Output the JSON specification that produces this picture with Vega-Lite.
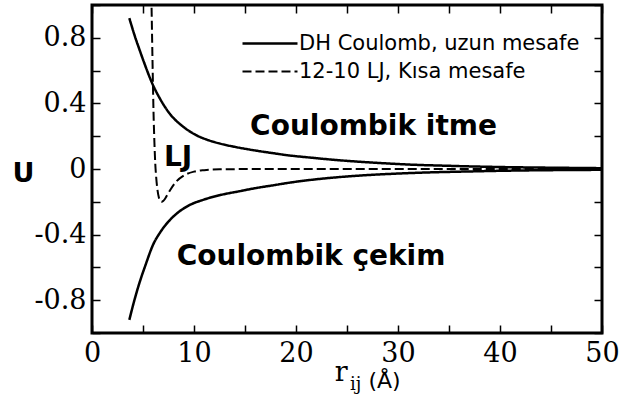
{
  "$schema": "https://vega.github.io/schema/vega-lite/v6.json",
  "width": 510,
  "height": 328,
  "autosize": {"type": "none"},
  "padding": {"left": 92, "top": 5, "right": 18, "bottom": 70},
  "background": "white",
  "config": {
    "view": {"stroke": "black", "strokeWidth": 3},
    "axis": {
      "domain": false,
      "grid": false,
      "tickColor": "black",
      "tickWidth": 1.5,
      "tickSize": -8,
      "labelFont": "DejaVu Serif",
      "labelFontSize": 27,
      "labelColor": "black"
    }
  },
  "datasets": {
    "curves": [
      {"r": 3.66, "U": 0.92, "curve": "itme", "series": "DH Coulomb, uzun mesafe"},
      {"r": 4.2, "U": 0.81, "curve": "itme", "series": "DH Coulomb, uzun mesafe"},
      {"r": 4.7, "U": 0.72, "curve": "itme", "series": "DH Coulomb, uzun mesafe"},
      {"r": 5.25, "U": 0.625, "curve": "itme", "series": "DH Coulomb, uzun mesafe"},
      {"r": 5.85, "U": 0.53, "curve": "itme", "series": "DH Coulomb, uzun mesafe"},
      {"r": 6.7, "U": 0.425, "curve": "itme", "series": "DH Coulomb, uzun mesafe"},
      {"r": 7.65, "U": 0.335, "curve": "itme", "series": "DH Coulomb, uzun mesafe"},
      {"r": 8.9, "U": 0.26, "curve": "itme", "series": "DH Coulomb, uzun mesafe"},
      {"r": 10.26, "U": 0.205, "curve": "itme", "series": "DH Coulomb, uzun mesafe"},
      {"r": 11.3, "U": 0.178, "curve": "itme", "series": "DH Coulomb, uzun mesafe"},
      {"r": 12.55, "U": 0.155, "curve": "itme", "series": "DH Coulomb, uzun mesafe"},
      {"r": 14.0, "U": 0.135, "curve": "itme", "series": "DH Coulomb, uzun mesafe"},
      {"r": 15.5, "U": 0.118, "curve": "itme", "series": "DH Coulomb, uzun mesafe"},
      {"r": 17.8, "U": 0.096, "curve": "itme", "series": "DH Coulomb, uzun mesafe"},
      {"r": 19.3, "U": 0.083, "curve": "itme", "series": "DH Coulomb, uzun mesafe"},
      {"r": 21.0, "U": 0.072, "curve": "itme", "series": "DH Coulomb, uzun mesafe"},
      {"r": 24.3, "U": 0.053, "curve": "itme", "series": "DH Coulomb, uzun mesafe"},
      {"r": 26.5, "U": 0.043, "curve": "itme", "series": "DH Coulomb, uzun mesafe"},
      {"r": 29.2, "U": 0.033, "curve": "itme", "series": "DH Coulomb, uzun mesafe"},
      {"r": 31.5, "U": 0.026, "curve": "itme", "series": "DH Coulomb, uzun mesafe"},
      {"r": 34.1, "U": 0.021, "curve": "itme", "series": "DH Coulomb, uzun mesafe"},
      {"r": 37.0, "U": 0.016, "curve": "itme", "series": "DH Coulomb, uzun mesafe"},
      {"r": 40.0, "U": 0.012, "curve": "itme", "series": "DH Coulomb, uzun mesafe"},
      {"r": 45.0, "U": 0.008, "curve": "itme", "series": "DH Coulomb, uzun mesafe"},
      {"r": 50.0, "U": 0.005, "curve": "itme", "series": "DH Coulomb, uzun mesafe"},
      {"r": 3.66, "U": -0.92, "curve": "cekim", "series": "DH Coulomb, uzun mesafe"},
      {"r": 4.2, "U": -0.79, "curve": "cekim", "series": "DH Coulomb, uzun mesafe"},
      {"r": 4.7, "U": -0.685, "curve": "cekim", "series": "DH Coulomb, uzun mesafe"},
      {"r": 5.25, "U": -0.585, "curve": "cekim", "series": "DH Coulomb, uzun mesafe"},
      {"r": 6.0, "U": -0.46, "curve": "cekim", "series": "DH Coulomb, uzun mesafe"},
      {"r": 6.7, "U": -0.385, "curve": "cekim", "series": "DH Coulomb, uzun mesafe"},
      {"r": 7.5, "U": -0.32, "curve": "cekim", "series": "DH Coulomb, uzun mesafe"},
      {"r": 8.3, "U": -0.272, "curve": "cekim", "series": "DH Coulomb, uzun mesafe"},
      {"r": 9.5, "U": -0.222, "curve": "cekim", "series": "DH Coulomb, uzun mesafe"},
      {"r": 10.9, "U": -0.188, "curve": "cekim", "series": "DH Coulomb, uzun mesafe"},
      {"r": 12.5, "U": -0.16, "curve": "cekim", "series": "DH Coulomb, uzun mesafe"},
      {"r": 14.5, "U": -0.135, "curve": "cekim", "series": "DH Coulomb, uzun mesafe"},
      {"r": 16.0, "U": -0.117, "curve": "cekim", "series": "DH Coulomb, uzun mesafe"},
      {"r": 17.8, "U": -0.099, "curve": "cekim", "series": "DH Coulomb, uzun mesafe"},
      {"r": 19.4, "U": -0.083, "curve": "cekim", "series": "DH Coulomb, uzun mesafe"},
      {"r": 21.1, "U": -0.069, "curve": "cekim", "series": "DH Coulomb, uzun mesafe"},
      {"r": 24.3, "U": -0.049, "curve": "cekim", "series": "DH Coulomb, uzun mesafe"},
      {"r": 26.5, "U": -0.039, "curve": "cekim", "series": "DH Coulomb, uzun mesafe"},
      {"r": 29.2, "U": -0.03, "curve": "cekim", "series": "DH Coulomb, uzun mesafe"},
      {"r": 31.5, "U": -0.024, "curve": "cekim", "series": "DH Coulomb, uzun mesafe"},
      {"r": 34.1, "U": -0.019, "curve": "cekim", "series": "DH Coulomb, uzun mesafe"},
      {"r": 37.0, "U": -0.015, "curve": "cekim", "series": "DH Coulomb, uzun mesafe"},
      {"r": 40.0, "U": -0.011, "curve": "cekim", "series": "DH Coulomb, uzun mesafe"},
      {"r": 45.0, "U": -0.007, "curve": "cekim", "series": "DH Coulomb, uzun mesafe"},
      {"r": 50.0, "U": -0.005, "curve": "cekim", "series": "DH Coulomb, uzun mesafe"},
      {"r": 5.75, "U": 1.3, "curve": "lj", "series": "12-10 LJ, Kısa mesafe"},
      {"r": 5.85, "U": 0.95, "curve": "lj", "series": "12-10 LJ, Kısa mesafe"},
      {"r": 5.95, "U": 0.6, "curve": "lj", "series": "12-10 LJ, Kısa mesafe"},
      {"r": 6.03, "U": 0.35, "curve": "lj", "series": "12-10 LJ, Kısa mesafe"},
      {"r": 6.12, "U": 0.16, "curve": "lj", "series": "12-10 LJ, Kısa mesafe"},
      {"r": 6.2, "U": 0.036, "curve": "lj", "series": "12-10 LJ, Kısa mesafe"},
      {"r": 6.3, "U": -0.056, "curve": "lj", "series": "12-10 LJ, Kısa mesafe"},
      {"r": 6.4, "U": -0.118, "curve": "lj", "series": "12-10 LJ, Kısa mesafe"},
      {"r": 6.55, "U": -0.172, "curve": "lj", "series": "12-10 LJ, Kısa mesafe"},
      {"r": 6.7, "U": -0.195, "curve": "lj", "series": "12-10 LJ, Kısa mesafe"},
      {"r": 6.83, "U": -0.2, "curve": "lj", "series": "12-10 LJ, Kısa mesafe"},
      {"r": 7.0, "U": -0.194, "curve": "lj", "series": "12-10 LJ, Kısa mesafe"},
      {"r": 7.3, "U": -0.167, "curve": "lj", "series": "12-10 LJ, Kısa mesafe"},
      {"r": 7.7, "U": -0.125, "curve": "lj", "series": "12-10 LJ, Kısa mesafe"},
      {"r": 8.2, "U": -0.081, "curve": "lj", "series": "12-10 LJ, Kısa mesafe"},
      {"r": 9.0, "U": -0.04, "curve": "lj", "series": "12-10 LJ, Kısa mesafe"},
      {"r": 10.0, "U": -0.016, "curve": "lj", "series": "12-10 LJ, Kısa mesafe"},
      {"r": 11.0, "U": -0.007, "curve": "lj", "series": "12-10 LJ, Kısa mesafe"},
      {"r": 12.5, "U": -0.002, "curve": "lj", "series": "12-10 LJ, Kısa mesafe"},
      {"r": 15.0, "U": -0.0005, "curve": "lj", "series": "12-10 LJ, Kısa mesafe"},
      {"r": 20.0, "U": 0, "curve": "lj", "series": "12-10 LJ, Kısa mesafe"},
      {"r": 30.0, "U": 0, "curve": "lj", "series": "12-10 LJ, Kısa mesafe"},
      {"r": 40.0, "U": 0, "curve": "lj", "series": "12-10 LJ, Kısa mesafe"},
      {"r": 50.0, "U": 0, "curve": "lj", "series": "12-10 LJ, Kısa mesafe"}
    ],
    "notes": [
      {"x": 15.5, "y": 0.207, "t": "Coulombik itme"},
      {"x": 7.06, "y": 0.018, "t": "LJ"},
      {"x": 8.3, "y": -0.585, "t": "Coulombik çekim"}
    ],
    "titleMain": [{"x": 23.8, "y": -1.291, "t": "r"}],
    "titleSub": [{"x": 25.3, "y": -1.345, "t": "ij"}],
    "titleUnit": [{"x": 27.1, "y": -1.335, "t": "(Å)"}]
  },
  "layer": [
    {
      "data": {"name": "curves"},
      "mark": {"type": "line", "clip": true, "color": "black", "interpolate": "monotone"},
      "encoding": {
        "x": {
          "field": "r", "type": "quantitative",
          "scale": {"domain": [0, 50], "nice": false},
          "axis": {
            "values": [0, 5, 10, 15, 20, 25, 30, 35, 40, 45, 50],
            "labelExpr": "datum.value % 10 == 0 ? datum.label : ''",
            "labelPadding": 15,
            "labelFlush": false,
            "title": null
          }
        },
        "y": {
          "field": "U", "type": "quantitative",
          "scale": {"domain": [-1, 1], "nice": false},
          "axis": {
            "values": [-1, -0.8, -0.6, -0.4, -0.2, 0, 0.2, 0.4, 0.6, 0.8, 1],
            "labelExpr": "indexof([-0.8, -0.4, 0, 0.4, 0.8], datum.value) >= 0 ? (datum.value < 0 ? '-' : '') + abs(datum.value) : ''",
            "labelPadding": 14,
            "labelFlush": false,
            "title": "U",
            "titleAngle": 0,
            "titleFont": "DejaVu Sans",
            "titleFontWeight": "bold",
            "titleFontSize": 27,
            "titleColor": "black",
            "titleX": -69,
            "titleY": 168,
            "titleAlign": "center",
            "titleBaseline": "middle"
          }
        },
        "detail": {"field": "curve"},
        "strokeDash": {
          "field": "series", "type": "nominal",
          "scale": {"domain": ["DH Coulomb, uzun mesafe", "12-10 LJ, Kısa mesafe"], "range": [[1, 0], [9, 4]]},
          "legend": {
            "orient": "none",
            "legendX": 149,
            "legendY": 28,
            "title": null,
            "padding": 0,
            "clipHeight": 21,
            "symbolType": "stroke",
            "symbolSize": 3025,
            "symbolStrokeWidth": 2.5,
            "symbolStrokeColor": "black",
            "labelFont": "DejaVu Sans",
            "labelFontSize": 21,
            "labelColor": "black",
            "labelOffset": 0,
            "labelLimit": 400,
            "rowPadding": 6
          }
        },
        "strokeWidth": {
          "field": "series", "type": "nominal",
          "scale": {"domain": ["DH Coulomb, uzun mesafe", "12-10 LJ, Kısa mesafe"], "range": [2.5, 2]},
          "legend": null
        }
      }
    },
    {
      "data": {"name": "notes"},
      "mark": {"type": "text", "align": "left", "baseline": "alphabetic", "font": "DejaVu Sans", "fontWeight": "bold", "fontSize": 28, "color": "black"},
      "encoding": {
        "x": {
          "field": "x", "type": "quantitative",
          "axis": {"orient": "top", "values": [0, 5, 10, 15, 20, 25, 30, 35, 40, 45, 50], "labels": false, "title": null}
        },
        "y": {
          "field": "y", "type": "quantitative",
          "axis": {"orient": "right", "values": [-1, -0.8, -0.6, -0.4, -0.2, 0, 0.2, 0.4, 0.6, 0.8, 1], "labels": false, "title": null}
        },
        "text": {"field": "t"}
      }
    },
    {
      "data": {"name": "titleMain"},
      "mark": {"type": "text", "align": "left", "baseline": "alphabetic", "font": "DejaVu Serif", "fontSize": 27, "color": "black"},
      "encoding": {
        "x": {"field": "x", "type": "quantitative", "axis": null},
        "y": {"field": "y", "type": "quantitative", "axis": null},
        "text": {"field": "t"}
      }
    },
    {
      "data": {"name": "titleSub"},
      "mark": {"type": "text", "align": "left", "baseline": "alphabetic", "font": "DejaVu Serif", "fontSize": 18, "color": "black"},
      "encoding": {
        "x": {"field": "x", "type": "quantitative", "axis": null},
        "y": {"field": "y", "type": "quantitative", "axis": null},
        "text": {"field": "t"}
      }
    },
    {
      "data": {"name": "titleUnit"},
      "mark": {"type": "text", "align": "left", "baseline": "alphabetic", "font": "DejaVu Sans", "fontSize": 22, "color": "black"},
      "encoding": {
        "x": {"field": "x", "type": "quantitative", "axis": null},
        "y": {"field": "y", "type": "quantitative", "axis": null},
        "text": {"field": "t"}
      }
    }
  ],
  "resolve": {"axis": {"x": "independent", "y": "independent"}}
}
